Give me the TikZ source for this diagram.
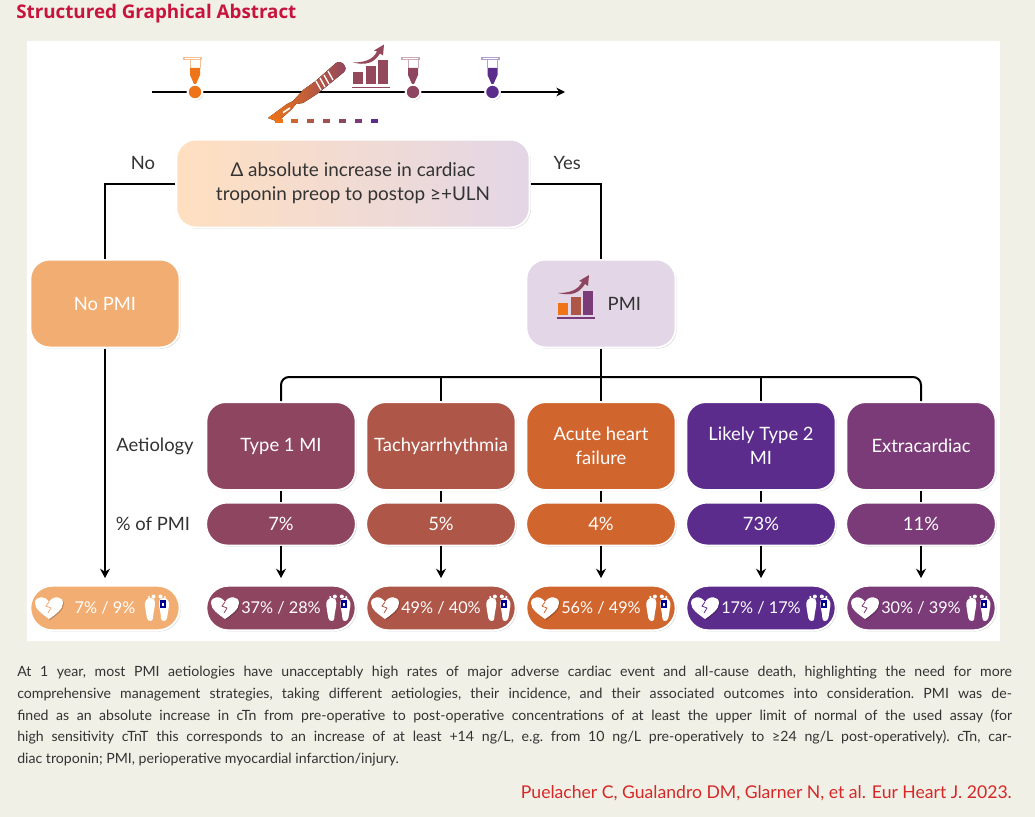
\documentclass[tikz,border=0pt]{standalone}
\usepackage{fontspec}
\setmainfont{Lato}
\newfontfamily\titlefont{Open Sans}
\usetikzlibrary{positioning,shadows,arrows.meta}

\definecolor{pagebg}{HTML}{F0F0E6}
\definecolor{titlered}{HTML}{C8143C}
\definecolor{citered}{HTML}{D62828}
\definecolor{inktext}{HTML}{333333}
\definecolor{nopmicol}{HTML}{F2AE72}
\definecolor{pmicol}{HTML}{E3D6E6}
\definecolor{typeonecol}{HTML}{8E4560}
\definecolor{tachycol}{HTML}{AE5648}
\definecolor{ahfcol}{HTML}{D0652E}
\definecolor{typetwocol}{HTML}{5B2C8C}
\definecolor{extracol}{HTML}{7B3A78}
\definecolor{tubeorange}{HTML}{EE7417}

\tikzset{
  x=0.75pt, y=-0.75pt,
  softshadow/.style={drop shadow={shadow xshift=0.8pt,shadow yshift=-0.8pt,opacity=0.22,fill=black}},
  bigbox/.style={rectangle,rounded corners=14.5pt,draw=white,line width=1.5pt,minimum width=112pt,minimum height=66pt,inner sep=2pt,align=center,font=\fontsize{13.8}{18}\selectfont,softshadow},
  pctpill/.style={rectangle,rounded corners=15.7pt,draw=white,line width=1.2pt,minimum width=112pt,minimum height=32pt,inner sep=0pt,text=white,font=\fontsize{13.8}{18}\selectfont,softshadow},
  outpill/.style={rectangle,rounded corners=16.5pt,draw=white,line width=1.5pt,minimum width=112pt,minimum height=33.5pt,inner sep=0pt,text=white,font=\fontsize{12.2}{18}\selectfont,softshadow},
  sidelabel/.style={text=inktext,font=\fontsize{13.8}{18}\selectfont,inner sep=0pt},
  flowline/.style={line width=1.5pt,black},
  flowarrow/.style={flowline,-{Stealth[length=7pt,width=7.5pt]},shorten >=5pt},
  timedot/.style={circle,fill=#1,draw=white,line width=1.5pt,minimum size=11pt,inner sep=0pt,softshadow},
  dashbit/.style={line width=3pt,#1},
  pics/tube/.style={code={
    \fill[#1!45] (-12,-27) rectangle (7,-24);
    \fill[white] (-10,-26) rectangle (5,-25);
    \draw[#1!45,line width=0.5pt] (-5,-24) -- (-5,-16) (5,-24) -- (5,-16);
    \fill[#1] (-5,-16) -- (5,-16) -- (5,-9) -- (1,0) -- (-1,0) -- (-5,-9) -- cycle;
  }},
  pics/heartbreak/.style={code={
    \fill[black,opacity=0.2] (1,12) .. controls (-6,7) and (-13,2) .. (-13,-4) .. controls (-13,-11) and (-3,-12) .. (1,-5) .. controls (5,-12) and (15,-11) .. (15,-4) .. controls (15,2) and (8,7) .. (1,12) -- cycle;
    \fill[white] (0,11) .. controls (-7,6) and (-14,1) .. (-14,-5) .. controls (-14,-12) and (-4,-13) .. (0,-6) .. controls (4,-13) and (14,-12) .. (14,-5) .. controls (14,1) and (7,6) .. (0,11) -- cycle;
    \draw[#1,line width=0.6pt] (0,-6) -- (-3,-2) -- (2,0) -- (-1,5);
  }},
  pics/feet/.style={code={
    \fill[white] (-6,-10) .. controls (-10,-11) and (-13,-6) .. (-12,-2) .. controls (-11,3) and (-11,6) .. (-10,10) .. controls (-9,14) and (-4,14) .. (-4,10) .. controls (-4,5) and (-2,0) .. (-2,-5) .. controls (-2,-8) and (-3,-10) .. (-6,-10) -- cycle;
    \fill[white] (6,-10) .. controls (10,-11) and (13,-6) .. (12,-2) .. controls (11,3) and (11,6) .. (10,10) .. controls (9,14) and (4,14) .. (4,10) .. controls (4,5) and (2,0) .. (2,-5) .. controls (2,-8) and (3,-10) .. (6,-10) -- cycle;
    \fill[white] (-3.5,-11.5) circle (2);
    \fill[white] (-8,-11) circle (1.2);
    \fill[white] (3.5,-11.5) circle (2);
    \fill[white] (8,-11) circle (1.2);
    \fill[blue!60!black] (3,-8) rectangle (9,0);
    \fill[white] (5,-5) rectangle (7,-2);
  }},
  pics/riserchart/.style n args={4}{code={
    \fill[#1] (0,-12) rectangle (10,0);
    \fill[#2] (13,-18) rectangle (23,0);
    \fill[#3] (25,-24) rectangle (35,0);
    \draw[#3,line width=1.2pt] (-1,3) -- (37,3);
    \fill[#4] (0,-22) .. controls (12,-22) and (20,-25) .. (24,-33) -- (21,-34) -- (31,-40) -- (30,-29) -- (27,-31) .. controls (21,-21) and (12,-19) .. (0,-22) -- cycle;
  }},
}

\begin{document}
\begin{tikzpicture}
  \fill[pagebg] (0,0) rectangle (1035,817);
  \fill[white] (27,41) rectangle (1000,641);
  \useasboundingbox (0,0) rectangle (1035,817);

  \node[anchor=west,inner sep=0pt,text=titlered,font=\titlefont\fontsize{14.1}{16}\bfseries\selectfont] (title) at (16,14) {Structured Graphical Abstract};

  % timeline
  \coordinate (tstart) at (152,92);
  \coordinate (tend) at (565,92);
  \draw[flowline,-{Stealth[length=6.5pt,width=6.5pt]}] (tstart) -- (tend);
  \node[timedot=tubeorange] (dot1) at (195,92) {};
  \node[timedot=typeonecol] (dot2) at (413,92) {};
  \node[timedot=typetwocol] (dot3) at (492.5,92) {};
  \pic at (195,84) {tube=tubeorange};
  \pic at (413,84) {tube=typeonecol};
  \pic at (492.5,84) {tube=typetwocol};

  % scalpel
  \fill[left color=tubeorange,right color=typeonecol] (268,118) -- (287,104) -- (293,101) -- (303,90) -- (315,81.5) -- (336,63) .. controls (341,59) and (349,67) .. (344,72) -- (327,86) -- (317,94) -- (303,103) -- (296,104) -- (292,109) -- (282,118) -- (276,121) -- cycle;
  \draw[white,line width=1.2pt] (283,112.7) -- (290,108);
  \draw[white,line width=1pt] (316,81) -- (321,90) (320,78) -- (325,87) (324,75) -- (329,84) (328,71) -- (333,80);
  \draw[dashbit={tubeorange}] (275,120.5) -- (283,120.5);
  \draw[dashbit={ahfcol}] (291,120.5) -- (298,120.5);
  \draw[dashbit={tachycol!90!ahfcol}] (307,120.5) -- (314,120.5);
  \draw[dashbit={tachycol!60!typeonecol}] (323,120.5) -- (330,120.5);
  \draw[dashbit={typeonecol}] (339,120.5) -- (346,120.5);
  \draw[dashbit={extracol}] (355,120.5) -- (362,120.5);
  \draw[dashbit={typetwocol}] (371,120.5) -- (378,120.5);
  \pic at (353,84.5) {riserchart={typeonecol!85!tachycol}{typeonecol!85!tachycol}{typeonecol!85!tachycol}{typeonecol!85!tachycol}};

  % decision
  \node[bigbox,minimum width=265pt,left color=orange!25!white,right color=pmicol,text=inktext,font=\fontsize{14.2}{18}\selectfont] (question) at (353,183.5) {Δ absolute increase in cardiac\\troponin preop to postop ≥+ULN};
  \node[bigbox,fill=pmicol,text=inktext] (pmi) at (601,303.5) {\hspace{35pt}PMI};
  \node[bigbox,fill=nopmicol,text=white,left of=pmi,node distance=372pt] (nopmi) {No PMI};
  \pic at (558,315) {riserchart={tubeorange}{tachycol}{extracol}{typeonecol}};

  \node[sidelabel,above left=10pt and 15pt of question.west] (nolabel) {No};
  \node[sidelabel,above right=10pt and 17pt of question.east] (yeslabel) {Yes};

  \draw[flowline] (question.west) -| (nopmi.north);
  \draw[flowline] (question.east) -| (pmi.north);

  % aetiology
  \tikzset{node distance=120pt}
  \node[bigbox,fill=ahfcol,text=white,below of=pmi,node distance=106.9pt] (ahf) {Acute heart\\failure};
  \node[bigbox,fill=tachycol,text=white,left of=ahf] (tachy) {Tachyarrhythmia};
  \node[bigbox,fill=typeonecol,text=white,left of=tachy] (typeone) {Type 1 MI};
  \node[bigbox,fill=typetwocol,text=white,right of=ahf] (typetwo) {Likely Type 2\\MI};
  \node[bigbox,fill=extracol,text=white,right of=typetwo] (extra) {Extracardiac};

  \node[sidelabel,left of=typeone,node distance=94.5pt] (aetlabel) {Aetiology};

  \coordinate (busmid) at (601,377);
  \draw[flowline] (pmi.south) -- (busmid);
  \draw[flowline,rounded corners=6pt] (typeone.north) |- (busmid) -| (extra.north);
  \draw[flowline] (tachy.north) -- (tachy.north |- busmid);
  \draw[flowline] (ahf.north) -- (busmid);
  \draw[flowline] (typetwo.north) -- (typetwo.north |- busmid);

  % percentages
  \tikzset{node distance=58.5pt}
  \node[pctpill,fill=typeonecol,below of=typeone] (pct1) {7\%};
  \node[pctpill,fill=tachycol,below of=tachy] (pct2) {5\%};
  \node[pctpill,fill=ahfcol,below of=ahf] (pct3) {4\%};
  \node[pctpill,fill=typetwocol,below of=typetwo] (pct4) {73\%};
  \node[pctpill,fill=extracol,below of=extra] (pct5) {11\%};
  \node[sidelabel,left of=pct1,node distance=96pt] (pctlabel) {\% of PMI};

  \draw[flowline] (typeone) -- (pct1) (tachy) -- (pct2) (ahf) -- (pct3) (typetwo) -- (pct4) (extra) -- (pct5);

  % outcomes
  \tikzset{node distance=63pt}
  \node[outpill,fill=typeonecol,below of=pct1] (out1) {37\% / 28\%};
  \node[outpill,fill=tachycol,below of=pct2] (out2) {49\% / 40\%};
  \node[outpill,fill=ahfcol,below of=pct3] (out3) {56\% / 49\%};
  \node[outpill,fill=typetwocol,below of=pct4] (out4) {17\% / 17\%};
  \node[outpill,fill=extracol,below of=pct5] (out5) {30\% / 39\%};
  \node[outpill,fill=nopmicol] (out0) at (nopmi |- out1) {7\% / 9\%};

  \draw[flowarrow] (nopmi) -- (out0);
  \draw[flowarrow] (pct1) -- (out1);
  \draw[flowarrow] (pct2) -- (out2);
  \draw[flowarrow] (pct3) -- (out3);
  \draw[flowarrow] (pct4) -- (out4);
  \draw[flowarrow] (pct5) -- (out5);

  \pic at ([xshift=-42pt]out0.center) {heartbreak=nopmicol};
  \pic at ([xshift=-42pt]out1.center) {heartbreak=typeonecol};
  \pic at ([xshift=-42pt]out2.center) {heartbreak=tachycol};
  \pic at ([xshift=-42pt]out3.center) {heartbreak=ahfcol};
  \pic at ([xshift=-42pt]out4.center) {heartbreak=typetwocol};
  \pic at ([xshift=-42pt]out5.center) {heartbreak=extracol};
  \pic at ([xshift=39pt]out0.center) {feet};
  \pic at ([xshift=43pt]out1.center) {feet};
  \pic at ([xshift=43pt]out2.center) {feet};
  \pic at ([xshift=43pt]out3.center) {feet};
  \pic at ([xshift=43pt]out4.center) {feet};
  \pic at ([xshift=43pt]out5.center) {feet};

  % caption
  \node[anchor=north west,inner sep=0pt,text width=746pt,align=justify,text=inktext,font=\frenchspacing\fontsize{10.6}{16.3}\selectfont] (caption) at (17,666) {At 1 year, most PMI aetiologies have unacceptably high rates of major adverse cardiac event and all-cause death, highlighting the need for more\linebreak comprehensive management strategies, taking different aetiologies, their incidence, and their associated outcomes into consideration. PMI was de-\linebreak fined as an absolute increase in cTn from pre-operative to post-operative concentrations of at least the upper limit of normal of the used assay (for\linebreak high sensitivity cTnT this corresponds to an increase of at least +14 ng/L, e.g. from 10 ng/L pre-operatively to ≥24 ng/L post-operatively). cTn, car-\linebreak diac troponin; PMI, perioperative myocardial infarction/injury.};
  \node[anchor=east,inner sep=0pt,text=citered,font=\fontsize{13.2}{15}\selectfont] (citation) at (1012,793) {Puelacher C, Gualandro DM, Glarner N, et al. Eur Heart J. 2023.};
\end{tikzpicture}
\end{document}
